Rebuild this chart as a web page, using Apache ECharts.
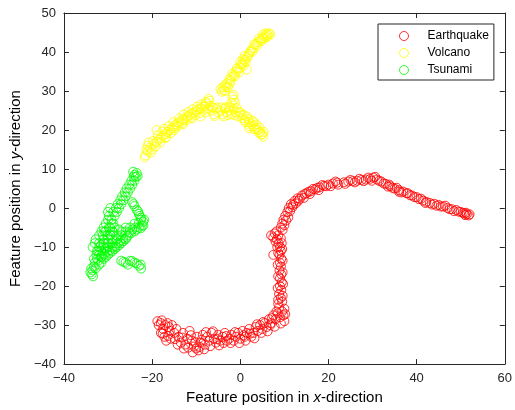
<!DOCTYPE html>
<html>
<head>
<meta charset="utf-8">
<script src="https://cdn.jsdelivr.net/npm/echarts@6/dist/echarts.min.js"></script>
<style>html,body{margin:0;padding:0;background:#fff;}#c{width:515px;height:410px;}</style>
</head>
<body>
<div id="c"></div>
<script>
const categories = ['Earthquake', 'Volcano', 'Tsunami'];
const colors = ['#ff0000', '#ffff00', '#00ff00'];

const earthquake = [
  [-18.5,-30],[-18,-29.5],[-17.5,-31],[-17,-30],[-16.5,-29.5],[-18,-32],[-17.2,-33],[-16,-31.5],[-15.5,-30],[-15,-32],[-16.8,-34],[-15.8,-33.5],
  [-14.5,-31],[-14,-33],[-13.5,-34.5],[-13,-32],[-12.5,-35],[-12,-33.5],[-11.5,-31.5],[-11,-34],[-10.5,-35.5],[-10,-36],[-9.8,-33],[-9.5,-36.5],
  [-9,-34.5],[-8.5,-32.5],[-8,-35],[-7.5,-33],[-7,-34],[-6.5,-32],[-6,-33.5],[-5.5,-34.5],[-5,-32.5],[-4.5,-34],[-4,-33],[-3.5,-32],[-3,-34],
  [-2.5,-33.5],[-2,-32.5],[-1.5,-34],[-1,-33],[-0.5,-32],[0,-33.5],[0.5,-31.5],[1,-33],[1.5,-32],[2,-31],[2.5,-33],[3,-32],[3.5,-30.5],[4,-31.5],
  [4.5,-30],[5,-31],[5.5,-29.5],[6,-30.5],[6.5,-28.5],[7,-29.5],[7.5,-27.5],[8,-28.5],[8.5,-27],[9,-28],[9.5,-26.5],[10,-29],[9.8,-27.5],[8.8,-25.5],[9.5,-24],
  [-18.8,-29],[-17.8,-28.8],[-16.2,-30.5],[-17.6,-32.2],[-16.4,-32.8],[-14.8,-33.6],[-14.2,-35],[-13.2,-33.2],[-12.8,-36],[-11.8,-35.8],[-11.2,-32.6],
  [-10.8,-37],[-10.2,-34.4],[-9.2,-35.6],[-8.8,-33.8],[-8.2,-36.2],[-7.8,-31.8],[-6.8,-35.4],[-6.2,-31.6],[-5.2,-33.6],[-4.8,-35.2],[-3.8,-34.6],
  [-3.2,-32.8],[-2.2,-34.6],[-1.2,-31.8],[-0.2,-34.6],[0.8,-32.6],[1.2,-34],[2.2,-32.2],[3.2,-33.4],[3.8,-29.8],[4.8,-32],[5.2,-29.2],[6.2,-31.6],
  [6.8,-30],[7.2,-28.2],[7.8,-30.4],[8.2,-26.5],[9.2,-29.6],[10.2,-27.2],[10,-25.8],[8.6,-24.5],
  [9.2,-23],[8.8,-22],[9.3,-21],[9,-20],[9.4,-19],[9,-18],[9.3,-17],[8.9,-16],[9.2,-15],[9,-14],[9.3,-13],[8.9,-12],[9.2,-11],[9,-10],[8.7,-9],
  [8.3,-8],[7.5,-7.5],[7.8,-6.5],[8.6,-7],[9.2,-7.8],[7.5,-12],
  [8.6,-23.5],[9.6,-22.5],[8.5,-20.5],[9.7,-19.5],[8.6,-17.5],[9.6,-16.5],[8.5,-14.5],[9.6,-13.5],[8.6,-11.5],[9.5,-10.5],[8.4,-10],[9.4,-9],[8,-8.6],[7,-7],[8.2,-6],
  [9.2,-5],[9.5,-4],[9.8,-3],[10.2,-2],[10.7,-1],[11,0],[11.5,1],[12.3,1.8],[13,2.5],[14,3.2],[15,3.8],[16,4.3],[17,4.8],[18,5.3],[19,5.7],[20,6],[21,6.3],[22,6.5],
  [12,0.8],[13.5,2.4],[15.5,4.2],[17.5,5.2],[19.5,5.6],
  [9.6,-5.6],[10,-4.4],[10.4,-3.2],[10.9,-2.4],[11.3,-0.8],[11.8,0.2],[12.6,1.2],[13.2,1.9],[14.4,2.6],[14.6,3.6],[15.8,3.6],[16.5,4.9],[17.8,4.6],
  [18.6,5.9],[20.5,5.6],[21.6,6.8],[22.2,6],
  [23.5,6.6],[24.5,6.8],[25.5,6.9],[26.5,7],[27.5,7.2],[28.5,7.3],[29.5,7.5],[30.2,7.8],[31,7.3],[32,6.8],[33,6.2],[34,5.6],[35,5],[36,4.6],
  [37,4.2],[37.7,3.8],[38.5,3.3],[39.5,2.8],[40.5,2.3],[41.5,1.9],[42.2,1.6],[43,1.3],[44,1.1],[45,0.8],[46,0.4],[47,0],[48,-0.3],[49,-0.5],
  [50,-1],[50.8,-1.4],[51.4,-1.6],[51.8,-1.9],[51.2,-1.2],[33.5,5.5],[36.5,4],[40,2.8],[44.5,0.6],
  [23.8,6.2],[25,7.2],[26,6.6],[27,7.5],[28,6.9],[29,7.8],[29.8,7],[30.6,8],[31.5,7],[32.5,6.3],[33.8,6],[34.5,5.2],[35.5,5.2],[36,4.2],[38,3.8],
  [39,3.2],[41,2.4],[42,1.3],[43.5,0.9],[45.5,0.4],[46.5,0.6],[47.5,-0.3],[48.5,-0.8],[49.5,-0.9],[50.5,-1.2],[51,-1.8],[52,-1.6]
];

const volcano = [
  [-21.5,13.5],[-21,14.5],[-20.5,15.5],[-21,16],[-20,15],[-19.5,16.5],[-19,17],[-18.5,17.5],[-19,20],[-18,18],[-17.5,18.5],[-17,19],[-17.3,20.3],
  [-16.5,19.5],[-16,20],[-15.5,20.5],[-15,21],[-14.5,21.5],[-14,22],[-13.5,22.3],[-13,22.7],[-12.5,23],[-12,23.5],[-11.5,23.8],[-11,24.2],
  [-10.5,24.5],[-10,24.8],[-9.5,25.3],[-9,25.5],[-8.5,26],[-8,26.2],[-7.5,26.8],[-7,27.5],[-7.2,28],[-8,24.5],[-9,23.5],[-11,23],[-13,21.5],[-15,20],[-17,18],
  [-21.7,13],[-21.3,15],[-20.3,14.2],[-20.8,16.8],[-19.8,17.2],[-19.2,15.8],[-18.7,18.6],[-18.2,16.8],[-17.7,19.6],[-16.8,18.2],[-16.2,21],[-15.8,19.2],
  [-15.2,22],[-14.8,20.5],[-14.2,21],[-13.8,23],[-13.2,21.8],[-12.8,24],[-12.2,22.5],[-11.8,24.6],[-11.2,23.2],[-10.8,25.3],[-10.2,23.8],[-9.8,26],
  [-9.2,24.4],[-8.8,26.6],[-8.2,25.2],[-7.8,27.2],[-7.3,25.5],[-6.8,26.2],
  [-6.5,25],[-6,24],[-5.5,25.5],[-5,24.5],[-4.5,25],[-4,24],[-3.5,25.5],[-3,24.5],[-2.5,25],[-2,24],[-1.5,25.5],[-1,24.5],[-0.5,23.5],[0,24.5],
  [-2,27],[-1.8,28.5],[-1.5,27.8],[-2.5,26],
  [-6.2,25.8],[-5.8,23.6],[-5.2,25.8],[-4.2,25.8],[-3.8,23.5],[-3.2,25.8],[-2.8,23.8],[-2.2,25.6],[-1.2,23.8],[-0.8,25.6],[-0.2,24.6],[0.3,23.8],
  [-1.2,27],[-1.5,29],
  [0.5,23],[1,22.5],[1.5,23.5],[2,22],[2.5,21.5],[3,21],[3.5,20.5],[4,20],[4.5,19.5],[5,19],[5.2,18.3],[3,22],[2,20.5],
  [0.8,23.8],[1.2,22],[1.8,22.8],[2.2,21],[2.8,22.4],[3.2,20.2],[3.6,21.4],[4.2,19.3],[4.4,20.6],[4.8,18.8],[5.3,19.5],
  [-4.5,30.5],[-4,31],[-3.5,31.5],[-3,32],[-3.5,30],[-2.8,31],[-2.5,33],[-2,33.5],[-1.5,34],[-1,35],[-0.5,35.5],[0,36],[0.5,37],[1,38],
  [0,37.5],[0.8,36.5],[1.5,38.5],[2,39.5],[2.5,40.5],[3,41],[3.5,42],[4,42.5],[4.5,43],[5,43.5],[5.5,44],[6,44.5],[6.5,44.8],[6,43.8],
  [5.2,44.5],[1.5,35.5],[1,39],
  [-4.2,29.8],[-3.8,30.2],[-3.2,31],[-2.4,31.8],[-2.2,32.6],[-1.8,34.4],[-1.2,33.8],[-0.8,35.8],[-0.3,34.8],[0.2,36.8],[0.6,38.2],[1.2,37.4],
  [1.8,39],[2.2,40],[2.8,40.2],[3.2,42],[3.8,41.6],[4.2,43.4],[4.8,42.8],[5.4,43.4],[5.8,44.8],[6.3,44.2],[6.8,44.5]
];

const tsunami = [
  [-33.7,-17],[-33.5,-16],[-33.2,-15],[-33,-14],[-32.5,-13],[-32,-12],[-31.5,-11],[-31,-10],[-30.5,-9],[-30,-8],[-29.5,-7],[-29,-6],[-28.5,-5],
  [-28.8,-4],[-29.2,-3],[-28.5,-2],[-28,-1],[-27.5,0],[-27,1],[-26.5,2],[-26,3],[-25.5,4],[-25,5],[-24.5,6],[-24,7],[-23.7,8],[-23.5,9],[-24,8.5],
  [-33,-9],[-33.5,-10],[-32.8,-8],[-32,-7],[-31.5,-6],[-31,-5],[-30.5,-4],[-30,-3],[-31,-8],[-32,-10],[-32.5,-11],[-30,-1],[-29.5,0],
  [-34,-16.5],[-33.4,-17.5],[-33.8,-15.5],[-32.8,-15.5],[-33.2,-13],[-32.2,-13.5],[-32.6,-12],[-31.6,-12.5],[-32.2,-11],[-31.2,-11.5],[-31.6,-9.5],
  [-30.6,-10.5],[-31.2,-7],[-30.8,-6],[-30.2,-7],[-29.8,-5],[-29.2,-4],[-29.8,-2],[-28.8,-1],[-28.2,0],[-27.8,1],[-27.2,2],[-26.8,3],[-26.2,4],
  [-25.8,5],[-25.2,6],[-24.7,7],[-24.2,8],[-23.3,8.2],[-24.3,9.3],
  [-24.5,1.5],[-24,0.5],[-23.5,-0.5],[-23,-1.5],[-22.5,-2.5],[-22,-3.5],[-22.3,-4.5],[-23,-5],[-23.5,-5.5],[-24,-6],[-24.8,-6.5],[-25.5,-7],
  [-26,-8],[-26.5,-8.5],[-27,-9],[-27.5,-9.5],[-28,-10],[-28.5,-10.5],[-29,-11],[-29.5,-11.5],[-30,-12],[-30.5,-12.5],[-31,-13],[-31.5,-14],[-32,-14.5],
  [-22.5,-3],[-23,-3.8],[-24,-4],[-25,-5],[-26,-6],[-27,-7],[-28,-8],[-29,-9],[-30,-10],
  [-24.2,1],[-23.2,-0.8],[-22.8,-2],[-21.8,-3],[-22,-4.5],[-22.6,-5.2],[-23.8,-5],[-24.5,-5.5],[-25.2,-6.2],[-25.8,-7.6],[-26.6,-7.8],[-27.2,-8.4],
  [-27.8,-9],[-28.4,-9.8],[-29,-10],[-29.6,-10.8],[-30.2,-11.2],[-30.8,-11.8],[-31.4,-12.6],
  [-27,-13.5],[-26,-14],[-25,-13.5],[-24,-14],[-23,-14.8],[-22.5,-15.5],[-25.5,-14.5],
  [-26.5,-13.8],[-24.5,-13.6],[-23.5,-14.2],[-22.6,-14.5],
  [-28.7,-6.3],[-29.5,-6.8],[-27.5,-5.5],
  [-32,-9],[-31,-9],[-30,-9],[-29,-8],[-28,-7],[-27,-6],[-26,-5],[-30.5,-6],[-29.5,-5]
];

const seriesData = [earthquake, volcano, tsunami];

const axisColor = '#262626';
const minus = v => String(v).replace('-', '\u2212');
const font = 'Liberation Sans, Arial, Helvetica, sans-serif';

const tickCommon = {show: true, inside: true, length: 5, lineStyle: {color: axisColor, width: 1}};
const lineCommon = {show: true, onZero: false, lineStyle: {color: axisColor, width: 1}};

const chart = echarts.init(document.getElementById('c'), null, {renderer: 'canvas'});
chart.setOption({
  animation: false,
  backgroundColor: '#fff',
  grid: {left: 62, right: 9, top: 13, bottom: 45, containLabel: false},
  legend: {
    data: categories,
    orient: 'vertical',
    left: 378, top: 24,
    backgroundColor: '#fff',
    borderColor: axisColor, borderWidth: 1,
    padding: [6, 5, 4, 21],
    icon: 'circle',
    itemWidth: 25, itemHeight: 9, itemGap: 5,
    itemStyle: {borderWidth: 1},
    textStyle: {fontFamily: font, fontSize: 12, color: '#000', padding: [0, 0, 0, 6]}
  },
  xAxis: [{
    type: 'value', min: -40, max: 60, interval: 20,
    name: '{a|Feature position in }{i|x}{a|-direction}',
    nameLocation: 'middle', nameGap: 25,
    nameTextStyle: {rich: {
      a: {fontFamily: font, fontSize: 15, color: '#000'},
      i: {fontFamily: font, fontSize: 15, fontStyle: 'italic', color: '#000'}
    }},
    axisLine: lineCommon,
    axisTick: tickCommon,
    axisLabel: {fontFamily: font, fontSize: 13, color: axisColor, margin: 8, formatter: minus},
    splitLine: {show: false}
  }, {
    type: 'value', position: 'top', min: -40, max: 60, interval: 20,
    axisLine: lineCommon,
    axisTick: tickCommon,
    axisLabel: {show: false}, splitLine: {show: false}
  }],
  yAxis: [{
    type: 'value', min: -40, max: 50, interval: 10,
    name: '{a|Feature position in }{i|y}{a|-direction}',
    nameLocation: 'middle', nameGap: 37, nameRotate: 90,
    nameTextStyle: {rich: {
      a: {fontFamily: font, fontSize: 15, color: '#000'},
      i: {fontFamily: font, fontSize: 15, fontStyle: 'italic', color: '#000'}
    }},
    axisLine: lineCommon,
    axisTick: tickCommon,
    axisLabel: {fontFamily: font, fontSize: 13, color: axisColor, margin: 8, formatter: minus},
    splitLine: {show: false}
  }, {
    type: 'value', position: 'right', min: -40, max: 50, interval: 10,
    axisLine: lineCommon,
    axisTick: tickCommon,
    axisLabel: {show: false}, splitLine: {show: false}
  }],
  series: categories.map((name, i) => ({
    name: name,
    type: 'scatter',
    xAxisIndex: 0, yAxisIndex: 0,
    symbol: 'circle',
    symbolSize: 9,
    itemStyle: {color: 'rgba(255,255,255,0)', borderColor: colors[i], borderWidth: 1},
    emphasis: {disabled: true},
    data: seriesData[i]
  }))
});
</script>
</body>
</html>
